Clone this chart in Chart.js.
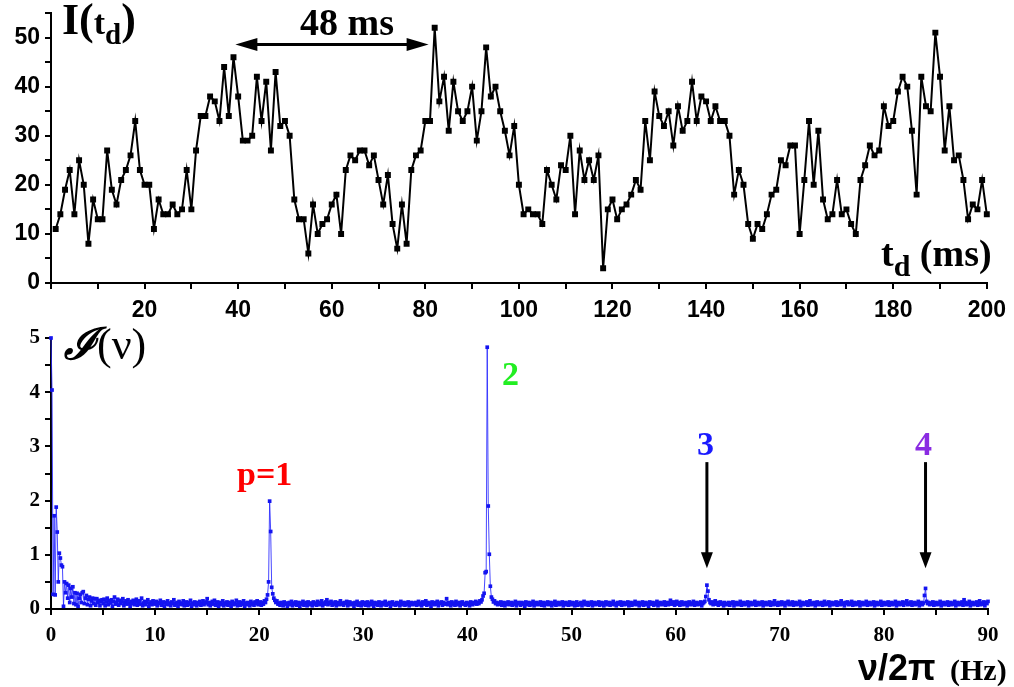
<!DOCTYPE html>
<html lang="en">
<head>
    <meta charset="UTF-8">
    <title>Intensity trace and spectrum</title>
    <script src="https://cdn.jsdelivr.net/npm/chart.js"></script>
    <style>
        body {
            margin: 0;
            width: 1014px;
            height: 687px;
            overflow: hidden;
            background: #fff;
            position: relative;
        }
        .box {
            position: absolute;
            left: 0;
            width: 1014px;
        }
        .lbl {
            position: absolute;
            line-height: 1;
            white-space: nowrap;
            font-weight: bold;
            color: #000;
        }
        .serif { font-family: 'Liberation Serif', 'Times New Roman', serif; }
        .sans { font-family: 'Liberation Sans', Arial, sans-serif; }
    </style>
</head>
<body>
    <div class="box" style="top:0; height:320px;"><canvas id="traceChart"></canvas></div>
    <div class="box" style="top:320px; height:367px;"><canvas id="spectrumChart"></canvas></div>

    <!-- text annotations -->
    <div class="lbl serif" style="left:62px; top:-2px; font-size:44px;">I(<span style="font-size:34px;">t</span><span style="font-size:29px; position:relative; top:10px;">d</span>)</div>
    <div class="lbl serif" style="left:300px; top:3px; font-size:38px;">48 ms</div>
    <div class="lbl serif" style="left:881px; top:234px; font-size:38px;">t<span style="font-size:30px; position:relative; top:10px;">d</span> (ms)</div>

    <div class="lbl serif" style="left:64px; top:323px; font-size:44px; font-weight:normal;"><span style="font-style:italic; font-weight:bold;">ℐ</span>(ν)</div>
    <div class="lbl serif" style="left:237px; top:457px; font-size:34px; color:#ff0000;">p=1</div>
    <div class="lbl serif" style="left:502px; top:357px; font-size:34px; color:#22ee22;">2</div>
    <div class="lbl serif" style="left:697px; top:427px; font-size:34px; color:#1a1aff;">3</div>
    <div class="lbl serif" style="left:915px; top:427px; font-size:34px; color:#8a2be2;">4</div>
    <div class="lbl sans" style="left:858px; top:650px; font-size:36px;">ν/2π</div>
    <div class="lbl serif" style="left:950px; top:655px; font-size:30px;">(Hz)</div>

    <script>
        // ---- data ----
        // top panel: intensity per 1 ms bin, t_d = 1..200
        const traceStart = 1;
        const traceValues = [
            11, 14, 19, 23, 14, 25, 20, 8, 17, 13, 13, 27, 19, 16, 21, 23, 26, 33, 23, 20,
            20, 11, 17, 14, 14, 16, 14, 15, 23, 15, 27, 34, 34, 38, 37, 33, 44, 34, 46, 38,
            29, 29, 30, 42, 33, 41, 27, 43, 32, 33, 30, 17, 13, 13, 6, 16, 10, 12, 13, 16,
            18, 10, 23, 26, 25, 27, 27, 24, 26, 21, 16, 22, 12, 7, 16, 8, 23, 26, 27, 33,
            33, 52, 37, 42, 31, 41, 35, 33, 35, 40, 29, 35, 48, 38, 40, 35, 31, 26, 32, 20,
            14, 15, 14, 14, 12, 23, 20, 17, 24, 23, 30, 14, 27, 21, 25, 21, 26, 3, 15, 17,
            13, 15, 16, 18, 21, 19, 33, 25, 39, 34, 32, 35, 28, 36, 31, 33, 41, 33, 38, 37,
            33, 36, 33, 33, 30, 18, 23, 20, 12, 9, 12, 11, 14, 18, 19, 25, 24, 28, 28, 10,
            21, 33, 20, 31, 17, 13, 14, 21, 14, 15, 12, 10, 21, 24, 28, 26, 27, 36, 32, 33,
            39, 42, 40, 31, 18, 42, 36, 35, 51, 42, 27, 36, 25, 26, 21, 13, 16, 15, 21, 14
        ];

        // bottom panel: spectrum, 0.1 Hz bins from 0 to 90 Hz (one row = 5 Hz)
        const freqStep = 0.1;
        const spectrumValues = [
            5.0, 4.04, 0.27, 1.72, 0.26, 1.88, 1.42, 0.5, 1.03, 0.94, 0.81, 0.78, 0.05, 0.5, 0.3, 0.47, 0.2, 0.44, 0.12, 0.38, 0.22, 0.41, 0.1, 0.3, 0.08, 0.29, 0.05, 0.2, 0.27, 0.12, 0.3, 0.32, 0.1, 0.2, 0.25, 0.08, 0.18, 0.22, 0.06, 0.15, 0.2, 0.1, 0.19, 0.07, 0.19, 0.12, 0.16, 0.06, 0.14, 0.17,
            0.1, 0.18, 0.06, 0.13, 0.2, 0.08, 0.15, 0.11, 0.17, 0.05, 0.14, 0.22, 0.09, 0.12, 0.18, 0.07, 0.16, 0.1, 0.13, 0.19, 0.06, 0.12, 0.15, 0.09, 0.17, 0.11, 0.05, 0.14, 0.1, 0.16, 0.08, 0.13, 0.18, 0.07, 0.12, 0.15, 0.09, 0.2, 0.06, 0.11, 0.14, 0.08, 0.12, 0.17, 0.05, 0.1, 0.13, 0.08, 0.15, 0.11,
            0.09, 0.14, 0.06, 0.12, 0.1, 0.16, 0.07, 0.11, 0.13, 0.05, 0.12, 0.09, 0.15, 0.08, 0.11, 0.06, 0.13, 0.1, 0.17, 0.07, 0.1, 0.12, 0.05, 0.14, 0.09, 0.11, 0.08, 0.15, 0.06, 0.1, 0.13, 0.07, 0.12, 0.09, 0.16, 0.05, 0.11, 0.08, 0.13, 0.1, 0.06, 0.12, 0.09, 0.14, 0.07, 0.1, 0.15, 0.08, 0.11, 0.13,
            0.19, 0.08, 0.12, 0.06, 0.1, 0.14, 0.09, 0.16, 0.07, 0.11, 0.13, 0.05, 0.1, 0.12, 0.08, 0.15, 0.06, 0.11, 0.09, 0.13, 0.07, 0.12, 0.1, 0.05, 0.14, 0.08, 0.11, 0.09, 0.16, 0.06, 0.1, 0.13, 0.07, 0.12, 0.09, 0.15, 0.05, 0.11, 0.08, 0.12, 0.1, 0.06, 0.14, 0.09, 0.11, 0.07, 0.13, 0.1, 0.15, 0.08,
            0.1, 0.13, 0.07, 0.12, 0.09, 0.15, 0.12, 0.18, 0.26, 0.5, 1.99, 1.43, 0.4, 0.28, 0.2, 0.16, 0.12, 0.15, 0.09, 0.11, 0.07, 0.12, 0.1, 0.06, 0.13, 0.09, 0.11, 0.05, 0.1, 0.12, 0.08, 0.14, 0.06, 0.11, 0.09, 0.13, 0.07, 0.1, 0.12, 0.05, 0.11, 0.09, 0.14, 0.07, 0.1, 0.12, 0.06, 0.13, 0.08, 0.11,
            0.1, 0.06, 0.13, 0.09, 0.11, 0.07, 0.14, 0.1, 0.08, 0.12, 0.15, 0.06, 0.11, 0.09, 0.13, 0.17, 0.08, 0.12, 0.1, 0.14, 0.07, 0.11, 0.09, 0.13, 0.06, 0.12, 0.1, 0.08, 0.15, 0.09, 0.11, 0.07, 0.12, 0.1, 0.14, 0.06, 0.09, 0.13, 0.08, 0.11, 0.1, 0.05, 0.12, 0.09, 0.14, 0.07, 0.11, 0.1, 0.06, 0.13,
            0.09, 0.12, 0.07, 0.1, 0.13, 0.06, 0.11, 0.08, 0.14, 0.1, 0.05, 0.12, 0.09, 0.11, 0.07, 0.13, 0.1, 0.06, 0.12, 0.08, 0.11, 0.14, 0.07, 0.1, 0.09, 0.12, 0.05, 0.11, 0.13, 0.08, 0.1, 0.07, 0.12, 0.09, 0.11, 0.06, 0.14, 0.08, 0.1, 0.12, 0.07, 0.11, 0.09, 0.13, 0.06, 0.1, 0.12, 0.08, 0.11, 0.09,
            0.12, 0.07, 0.1, 0.14, 0.08, 0.11, 0.06, 0.13, 0.09, 0.1, 0.15, 0.07, 0.12, 0.09, 0.11, 0.05, 0.13, 0.1, 0.08, 0.12, 0.09, 0.14, 0.06, 0.11, 0.1, 0.13, 0.07, 0.12, 0.09, 0.1, 0.19, 0.08, 0.12, 0.1, 0.06, 0.13, 0.09, 0.11, 0.07, 0.14, 0.1, 0.08, 0.12, 0.06, 0.11, 0.13, 0.09, 0.1, 0.07, 0.12,
            0.09, 0.11, 0.06, 0.13, 0.1, 0.08, 0.12, 0.1, 0.14, 0.09, 0.12, 0.1, 0.15, 0.13, 0.17, 0.24, 0.29, 0.67, 0.69, 4.83, 1.9, 1.01, 0.42, 0.22, 0.18, 0.13, 0.15, 0.1, 0.12, 0.08, 0.11, 0.09, 0.13, 0.07, 0.1, 0.12, 0.06, 0.11, 0.09, 0.13, 0.08, 0.1, 0.12, 0.07, 0.11, 0.09, 0.14, 0.06, 0.1, 0.12,
            0.1, 0.07, 0.12, 0.09, 0.11, 0.05, 0.13, 0.08, 0.1, 0.12, 0.07, 0.11, 0.09, 0.14, 0.06, 0.1, 0.12, 0.08, 0.11, 0.09, 0.13, 0.07, 0.1, 0.12, 0.06, 0.11, 0.09, 0.13, 0.08, 0.1, 0.12, 0.06, 0.11, 0.09, 0.14, 0.07, 0.1, 0.12, 0.08, 0.11, 0.09, 0.13, 0.06, 0.1, 0.12, 0.08, 0.11, 0.07, 0.13, 0.1,
            0.08, 0.12, 0.1, 0.06, 0.11, 0.13, 0.07, 0.1, 0.09, 0.12, 0.06, 0.11, 0.14, 0.08, 0.1, 0.12, 0.07, 0.09, 0.11, 0.13, 0.06, 0.1, 0.12, 0.08, 0.11, 0.09, 0.13, 0.07, 0.1, 0.12, 0.09, 0.06, 0.11, 0.13, 0.08, 0.1, 0.12, 0.07, 0.11, 0.09, 0.14, 0.08, 0.1, 0.06, 0.12, 0.09, 0.11, 0.13, 0.07, 0.1,
            0.12, 0.08, 0.11, 0.09, 0.13, 0.06, 0.1, 0.12, 0.07, 0.11, 0.09, 0.14, 0.08, 0.1, 0.12, 0.06, 0.11, 0.09, 0.13, 0.07, 0.1, 0.12, 0.08, 0.11, 0.05, 0.13, 0.09, 0.1, 0.12, 0.07, 0.11, 0.09, 0.14, 0.06, 0.1, 0.12, 0.08, 0.11, 0.09, 0.13, 0.07, 0.1, 0.12, 0.08, 0.11, 0.16, 0.09, 0.1, 0.13, 0.07,
            0.11, 0.14, 0.09, 0.12, 0.07, 0.1, 0.13, 0.08, 0.11, 0.09, 0.12, 0.06, 0.1, 0.13, 0.08, 0.11, 0.09, 0.14, 0.07, 0.1, 0.12, 0.08, 0.11, 0.09, 0.13, 0.06, 0.1, 0.12, 0.14, 0.23, 0.44, 0.33, 0.17, 0.12, 0.1, 0.13, 0.08, 0.11, 0.15, 0.09, 0.12, 0.07, 0.1, 0.13, 0.09, 0.11, 0.06, 0.12, 0.1, 0.08,
            0.09, 0.12, 0.07, 0.11, 0.1, 0.13, 0.06, 0.1, 0.12, 0.08, 0.11, 0.09, 0.14, 0.07, 0.1, 0.12, 0.08, 0.11, 0.09, 0.13, 0.06, 0.1, 0.12, 0.08, 0.11, 0.09, 0.14, 0.07, 0.1, 0.12, 0.08, 0.11, 0.09, 0.13, 0.06, 0.1, 0.12, 0.08, 0.11, 0.09, 0.13, 0.07, 0.1, 0.12, 0.08, 0.15, 0.09, 0.11, 0.07, 0.12,
            0.1, 0.08, 0.13, 0.09, 0.11, 0.06, 0.12, 0.1, 0.14, 0.08, 0.11, 0.09, 0.13, 0.07, 0.1, 0.12, 0.08, 0.11, 0.09, 0.14, 0.06, 0.1, 0.12, 0.08, 0.11, 0.09, 0.13, 0.07, 0.1, 0.15, 0.08, 0.11, 0.09, 0.12, 0.06, 0.1, 0.13, 0.08, 0.11, 0.09, 0.12, 0.07, 0.1, 0.14, 0.08, 0.11, 0.09, 0.13, 0.06, 0.1,
            0.12, 0.08, 0.11, 0.09, 0.13, 0.07, 0.1, 0.12, 0.08, 0.15, 0.09, 0.11, 0.06, 0.12, 0.1, 0.13, 0.08, 0.11, 0.09, 0.14, 0.07, 0.1, 0.12, 0.08, 0.11, 0.09, 0.13, 0.06, 0.1, 0.12, 0.08, 0.11, 0.09, 0.14, 0.07, 0.1, 0.12, 0.08, 0.11, 0.09, 0.13, 0.06, 0.1, 0.12, 0.08, 0.11, 0.09, 0.14, 0.07, 0.1,
            0.12, 0.08, 0.11, 0.09, 0.13, 0.07, 0.1, 0.12, 0.08, 0.11, 0.09, 0.14, 0.06, 0.1, 0.12, 0.08, 0.11, 0.09, 0.13, 0.07, 0.1, 0.12, 0.15, 0.08, 0.11, 0.09, 0.13, 0.07, 0.1, 0.12, 0.08, 0.11, 0.09, 0.14, 0.06, 0.1, 0.12, 0.08, 0.11, 0.25, 0.38, 0.14, 0.1, 0.12, 0.08, 0.11, 0.09, 0.13, 0.07, 0.1,
            0.12, 0.08, 0.11, 0.09, 0.14, 0.06, 0.1, 0.12, 0.08, 0.11, 0.09, 0.13, 0.07, 0.1, 0.12, 0.08, 0.11, 0.09, 0.14, 0.06, 0.1, 0.12, 0.08, 0.11, 0.09, 0.13, 0.07, 0.17, 0.12, 0.08, 0.11, 0.09, 0.14, 0.06, 0.1, 0.12, 0.08, 0.11, 0.09, 0.13, 0.07, 0.1, 0.15, 0.08, 0.11, 0.09, 0.13, 0.06, 0.12, 0.1,
            0.14
        ];

        // annotation arrows, in data units
        const periodArrow = { from: 39.4, to: 80.7, level: 48.6 };
        const harmonicArrows = [
            { at: 63, from: 2.71, to: 0.75 },
            { at: 84, from: 2.71, to: 0.75 }
        ];

        const tracePoints = traceValues.map((v, i) => ({ x: traceStart + i, y: v }));
        const spectrumPoints = spectrumValues.map((v, i) => ({ x: +(i * freqStep).toFixed(1), y: v }));

        // draw a filled arrow head with its tip at (x, y) pointing along (dx, dy)
        function drawHead(ctx, x, y, dx, dy, len, half) {
            ctx.beginPath();
            ctx.moveTo(x, y);
            ctx.lineTo(x - dx * len - dy * half, y - dy * len + dx * half);
            ctx.lineTo(x - dx * len + dy * half, y - dy * len - dx * half);
            ctx.closePath();
            ctx.fill();
        }

        const arrowPlugin = {
            id: 'arrows',
            afterDatasetsDraw(chart, args, opts) {
                const ctx = chart.ctx;
                const xs = chart.scales.x;
                const ys = chart.scales.y;
                ctx.save();
                ctx.strokeStyle = '#000';
                ctx.fillStyle = '#000';
                ctx.lineWidth = 3;
                if (opts.horizontal) {
                    const a = opts.horizontal;
                    const x1 = xs.getPixelForValue(a.from);
                    const x2 = xs.getPixelForValue(a.to);
                    const y = ys.getPixelForValue(a.level);
                    ctx.beginPath();
                    ctx.moveTo(x1 + 15, y);
                    ctx.lineTo(x2 - 15, y);
                    ctx.stroke();
                    drawHead(ctx, x1, y, -1, 0, 22, 6.5);
                    drawHead(ctx, x2, y, 1, 0, 22, 6.5);
                }
                (opts.vertical || []).forEach(a => {
                    const x = xs.getPixelForValue(a.at);
                    const y1 = ys.getPixelForValue(a.from);
                    const y2 = ys.getPixelForValue(a.to);
                    ctx.beginPath();
                    ctx.moveTo(x, y1);
                    ctx.lineTo(x, y2 - 10);
                    ctx.stroke();
                    drawHead(ctx, x, y2, 0, 1, 16, 6);
                });
                ctx.restore();
            }
        };

        // black axis lines with outward tick marks only
        const axisLines = {
            grid: { drawOnChartArea: false, drawTicks: true, tickLength: 6, color: '#000', lineWidth: 2 },
            border: { display: true, color: '#000', width: 2 }
        };

        const sansTick = { family: "'Liberation Sans', Arial, sans-serif", weight: 'bold', size: 23 };
        const serifTick = { family: "'Liberation Serif', 'Times New Roman', serif", weight: 'bold', size: 21 };

        // fix the plot box: no extra room for labels
        function fixY(s) { s.width = 51; s.paddingTop = 0; s.paddingBottom = 0; }

        // top: intensity trace
        new Chart(document.getElementById('traceChart'), {
            type: 'line',
            data: {
                datasets: [{
                    data: tracePoints,
                    borderColor: '#000',
                    borderWidth: 2,
                    pointStyle: 'rect',
                    pointRadius: 4.2,
                    pointBackgroundColor: '#000',
                    pointBorderWidth: 0,
                    tension: 0,
                    clip: 6
                }]
            },
            options: {
                responsive: true,
                maintainAspectRatio: false,
                animation: false,
                events: [],
                layout: { padding: { left: 0, right: 26, top: 13, bottom: 0 } },
                plugins: {
                    legend: { display: false },
                    tooltip: { enabled: false },
                    arrows: { horizontal: periodArrow }
                },
                scales: {
                    x: {
                        type: 'linear', min: 0, max: 200,
                        ...axisLines,
                        ticks: {
                            stepSize: 10, autoSkip: false, maxRotation: 0, padding: 8, color: '#000', font: sansTick,
                            callback: v => (v % 20 === 0 && v !== 0) ? v : ''
                        },
                        afterFit: s => { s.height = 37; }
                    },
                    y: {
                        min: 0, max: 55,
                        ...axisLines,
                        ticks: {
                            stepSize: 5, autoSkip: false, padding: 5, color: '#000', font: sansTick,
                            callback: v => v % 10 === 0 ? v : ''
                        },
                        afterFit: fixY
                    }
                }
            },
            plugins: [arrowPlugin]
        });

        // bottom: spectrum
        new Chart(document.getElementById('spectrumChart'), {
            type: 'line',
            data: {
                datasets: [{
                    data: spectrumPoints,
                    borderColor: 'rgba(40, 40, 255, 0.85)',
                    borderWidth: 1,
                    pointStyle: 'rect',
                    pointRadius: 2.6,
                    pointBackgroundColor: '#1414f0',
                    pointBorderWidth: 0,
                    tension: 0,
                    clip: 4
                }]
            },
            options: {
                responsive: true,
                maintainAspectRatio: false,
                animation: false,
                events: [],
                layout: { padding: { left: 0, right: 26, top: 18, bottom: 0 } },
                plugins: {
                    legend: { display: false },
                    tooltip: { enabled: false },
                    arrows: { vertical: harmonicArrows }
                },
                scales: {
                    x: {
                        type: 'linear', min: 0, max: 90,
                        ...axisLines,
                        ticks: {
                            stepSize: 5, autoSkip: false, maxRotation: 0, padding: 8, color: '#000', font: serifTick,
                            callback: v => v % 10 === 0 ? v : ''
                        },
                        afterFit: s => { s.height = 78; }
                    },
                    y: {
                        min: 0, max: 5,
                        ...axisLines,
                        ticks: {
                            stepSize: 0.5, autoSkip: false, padding: 5, color: '#000', font: serifTick,
                            callback: v => Number.isInteger(v) ? v : ''
                        },
                        afterFit: fixY
                    }
                }
            },
            plugins: [arrowPlugin]
        });
    </script>
</body>
</html>
